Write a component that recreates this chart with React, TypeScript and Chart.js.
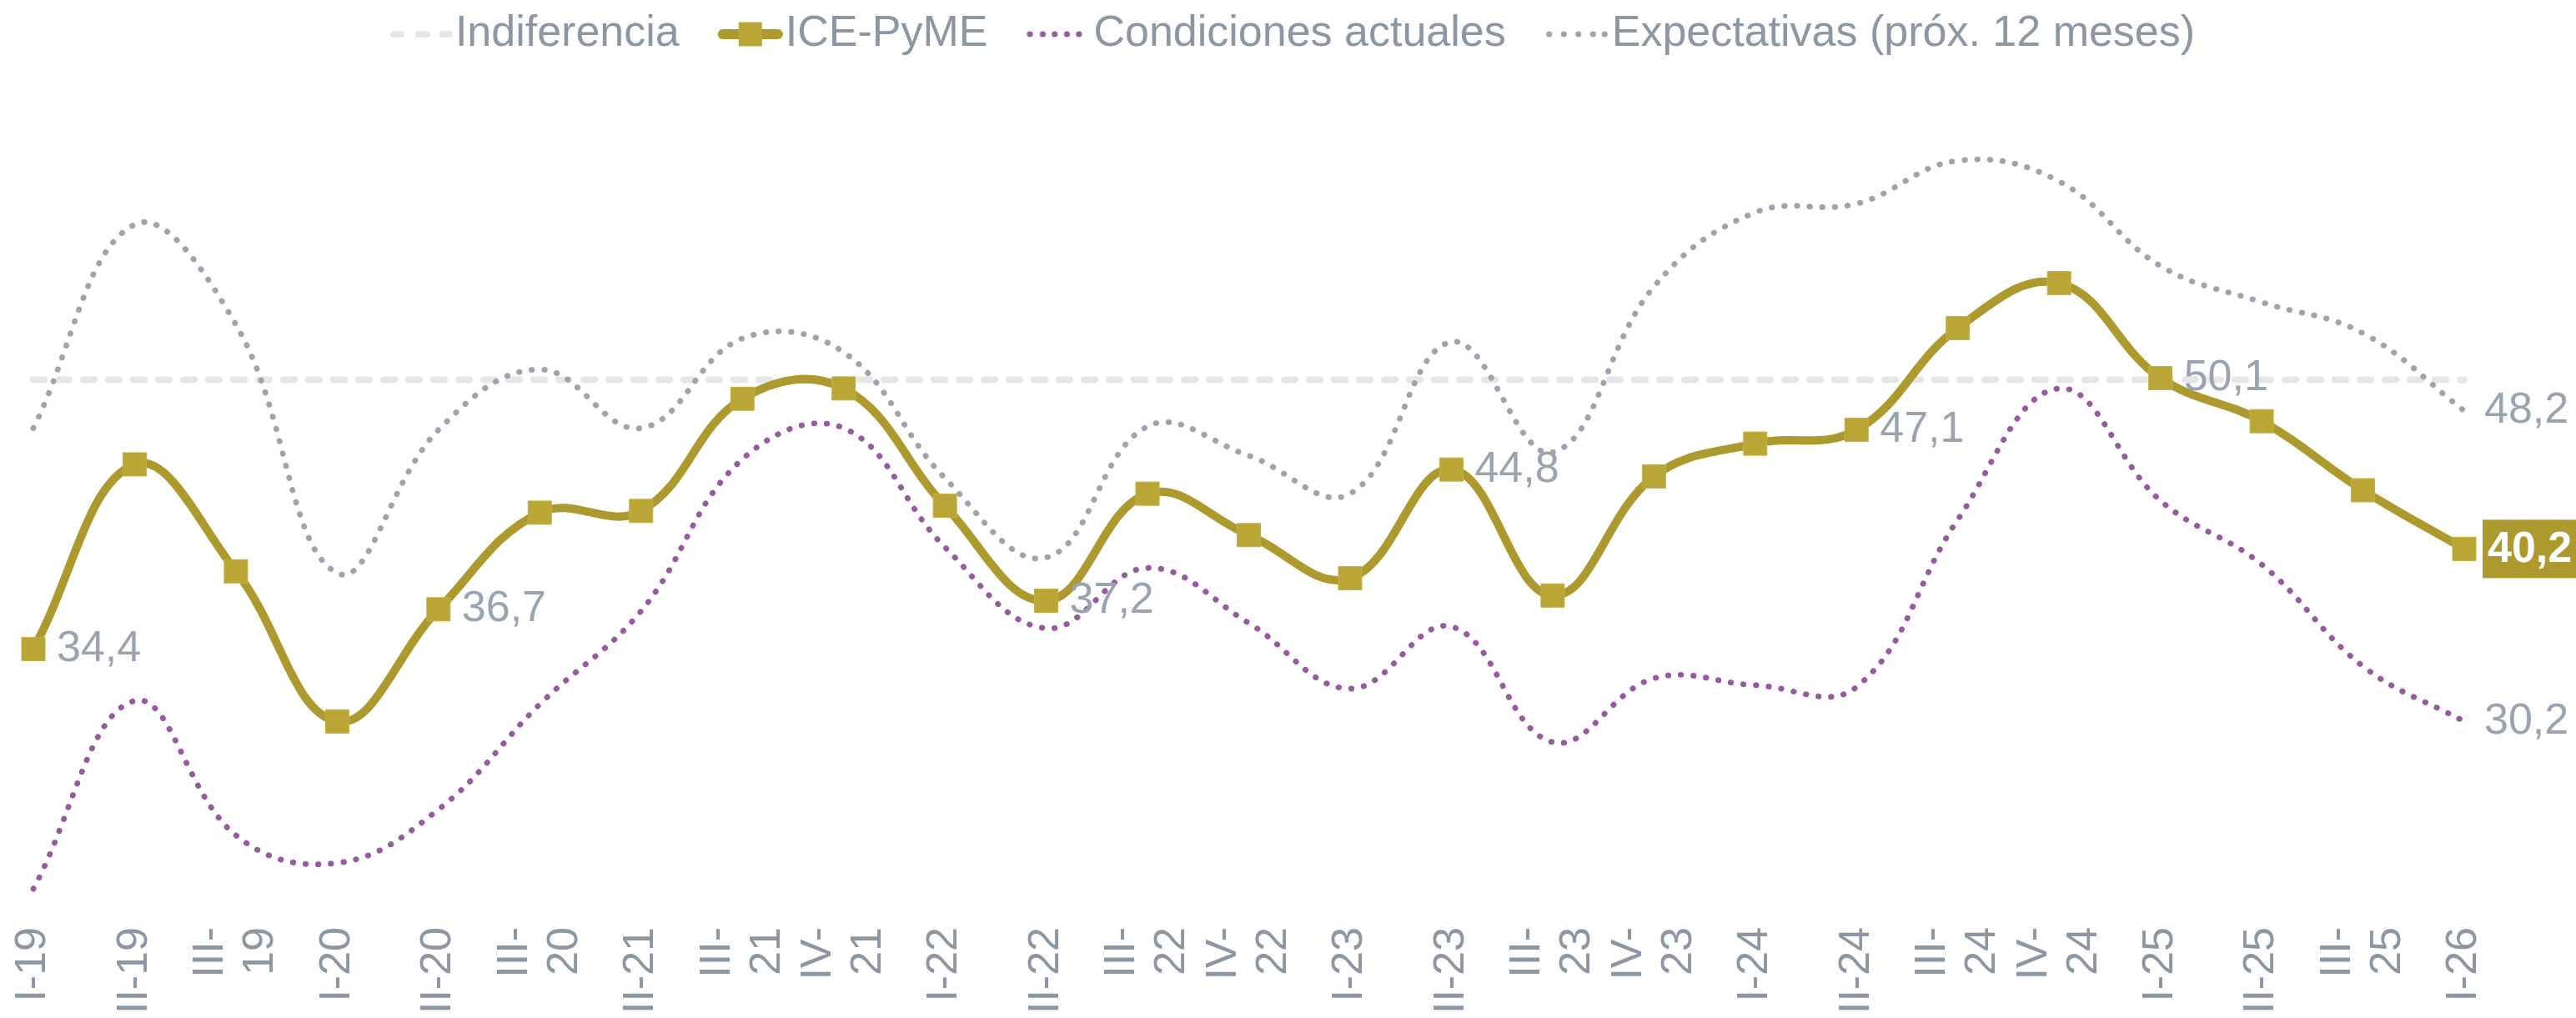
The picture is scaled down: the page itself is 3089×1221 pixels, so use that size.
import React, { useEffect, useRef } from "react";
import { Chart, registerables } from "chart.js";

Chart.register(...registerables);

// ---------- data ----------
const quarterLabels = [
  "I-19", "II-19", "III-19", "I-20", "II-20", "III-20", "II-21", "III-21", "IV-21",
  "I-22", "II-22", "III-22", "IV-22", "I-23", "II-23", "III-23", "IV-23",
  "I-24", "II-24", "III-24", "IV-24", "I-25", "II-25", "III-25", "I-26",
];

const icePyme = [
  34.4, 45.1, 38.9, 30.2, 36.7, 42.3, 42.4, 48.9, 49.5,
  42.7, 37.2, 43.4, 41.0, 38.5, 44.8, 37.5, 44.4,
  46.3, 47.1, 53.0, 55.6, 50.1, 47.6, 43.6, 40.2,
];

const condicionesActuales = [
  20.5, 31.4, 23.6, 22.0, 25.1, 31.2, 36.6, 45.4, 47.2,
  40.3, 35.6, 39.1, 35.9, 32.1, 35.7, 29.0, 32.7,
  32.3, 32.2, 41.9, 49.5, 43.0, 39.3, 33.4, 30.2,
];

const expectativas = [
  47.2, 59.0, 53.2, 38.8, 47.1, 50.6, 47.2, 52.4, 51.6,
  44.3, 39.7, 47.3, 45.6, 43.4, 52.2, 45.8, 55.4,
  59.7, 60.2, 62.7, 61.5, 56.6, 54.5, 52.7, 48.2,
];

const indiferenciaValue = 50;

const seriesNames = ["Indiferencia", "ICE-PyME", "Condiciones actuales", "Expectativas (próx. 12 meses)"];

// indices of ICE-PyME points carrying a value label
const labeledIcePoints = [0, 4, 10, 14, 18, 21];

// axis range
const Y_MIN = 19.78;
const Y_MAX = 68.29;

// ---------- style ----------
const FONT = "'Liberation Sans', Arial, Helvetica, sans-serif";
const TEXT_GRAY = "#8d97a3";
const LABEL_GRAY = "#9aa4b0";
const OLIVE_LINE = "#ad9a2f";
const OLIVE_MARK = "#b9a636";
const PURPLE = "#965a9e";
const DOT_GRAY = "#9ba4af";
const DASH_GRAY = "#e6e6e6";

const fmt = (v: number) => v.toFixed(1).replace(".", ",");
const isSplit = (s: string) => s.startsWith("III") || s.startsWith("IV");
const splitLabel = (s: string) => {
  if (isSplit(s)) {
    const k = s.indexOf("-");
    return [s.slice(0, k + 1), s.slice(k + 1)];
  }
  return ["", s];
};

function makeSymbol(kind: string): HTMLCanvasElement {
  const c = document.createElement("canvas");
  c.width = 132;
  c.height = 36;
  const g = c.getContext("2d") as CanvasRenderingContext2D;
  g.lineCap = "round";
  const cy = 18;
  if (kind === "dash") {
    g.strokeStyle = DASH_GRAY;
    g.lineWidth = 8;
    for (const [a, b] of [[61, 70], [91, 101], [120, 128]]) {
      g.beginPath();
      g.moveTo(a, cy);
      g.lineTo(b, cy);
      g.stroke();
    }
  } else if (kind === "ice") {
    g.strokeStyle = OLIVE_LINE;
    g.lineWidth = 12;
    g.beginPath();
    g.moveTo(60, cy);
    g.lineTo(126, cy);
    g.stroke();
    g.fillStyle = OLIVE_MARK;
    g.fillRect(79, cy - 14.5, 28, 29);
  } else {
    const xs = kind === "purple" ? [58.6, 74, 88.3, 103, 117.4] : [60, 77.5, 95, 112.5, 126.4];
    g.fillStyle = kind === "purple" ? PURPLE : DOT_GRAY;
    for (const x of xs) {
      g.beginPath();
      g.arc(x, cy, 3.6, 0, Math.PI * 2);
      g.fill();
    }
  }
  return c;
}

const valueLabelPlugin = {
  id: "valueLabels",
  afterDatasetsDraw(chart: any) {
    const ctx = chart.ctx as CanvasRenderingContext2D;
    ctx.save();
    ctx.textBaseline = "middle";
    ctx.textAlign = "left";
    ctx.font = `52px ${FONT}`;
    ctx.fillStyle = LABEL_GRAY;
    const iceMeta = chart.getDatasetMeta(1);
    labeledIcePoints.forEach((i) => {
      const p = iceMeta.data[i];
      ctx.fillText(fmt(icePyme[i]), p.x + 28, p.y);
    });
    const condMeta = chart.getDatasetMeta(2);
    const expMeta = chart.getDatasetMeta(3);
    const last = quarterLabels.length - 1;
    const pc = condMeta.data[last];
    ctx.fillText(fmt(condicionesActuales[last]), pc.x + 24, pc.y);
    const pe = expMeta.data[last];
    ctx.fillText(fmt(expectativas[last]), pe.x + 24, pe.y);
    // highlighted last ICE value
    const pl = iceMeta.data[last];
    ctx.fillStyle = OLIVE_LINE;
    ctx.fillRect(pl.x + 22, pl.y - 35, chart.width - (pl.x + 22), 70);
    ctx.fillStyle = "#ffffff";
    ctx.font = `bold 52px ${FONT}`;
    ctx.fillText(fmt(icePyme[last]), pl.x + 28, pl.y + 1);
    ctx.restore();
  },
};

export default function App() {
  const canvasRef = useRef<HTMLCanvasElement | null>(null);

  useEffect(() => {
    document.body.style.margin = "0";
    document.body.style.overflow = "hidden";
    const canvas = canvasRef.current;
    if (!canvas) return;
    const symbols = [makeSymbol("dash"), makeSymbol("ice"), makeSymbol("purple"), makeSymbol("gray")];

    const chart = new Chart(canvas, {
      type: "line",
      data: {
        labels: quarterLabels,
        datasets: [
          {
            label: seriesNames[0],
            data: quarterLabels.map(() => indiferenciaValue),
            borderColor: DASH_GRAY,
            borderWidth: 8,
            borderDash: [13, 17],
            borderCapStyle: "round",
            pointRadius: 0,
            tension: 0,
            order: 4,
            clip: false,
          },
          {
            label: seriesNames[1],
            data: icePyme,
            borderColor: OLIVE_LINE,
            borderWidth: 10,
            borderJoinStyle: "round",
            pointStyle: "rect",
            pointRadius: 19.8,
            pointBackgroundColor: OLIVE_MARK,
            pointBorderColor: "#c4b243",
            pointBorderWidth: 1,
            tension: 0.4,
            order: 1,
            clip: false,
          },
          {
            label: seriesNames[2],
            data: condicionesActuales,
            borderColor: PURPLE,
            borderWidth: 6.8,
            borderDash: [0.5, 14.7],
            borderCapStyle: "round",
            pointRadius: 0,
            tension: 0.4,
            order: 2,
            clip: false,
          },
          {
            label: seriesNames[3],
            data: expectativas,
            borderColor: DOT_GRAY,
            borderWidth: 6.8,
            borderDash: [0.5, 14.7],
            borderCapStyle: "round",
            pointRadius: 0,
            tension: 0.4,
            order: 3,
            clip: false,
          },
        ],
      },
      options: {
        animation: false,
        responsive: false,
        devicePixelRatio: 1,
        events: [],
        layout: { padding: { left: 0, right: 23, top: 0, bottom: 0 } },
        plugins: {
          tooltip: { enabled: false },
          legend: {
            position: "top",
            align: "center",
            labels: {
              usePointStyle: true,
              pointStyleWidth: 86,
              padding: 15,
              color: TEXT_GRAY,
              font: { family: FONT, size: 52 },
              generateLabels: () =>
                seriesNames.map((name, i) => ({
                  text: name,
                  pointStyle: symbols[i],
                  fillStyle: "rgba(0,0,0,0)",
                  strokeStyle: "rgba(0,0,0,0)",
                  lineWidth: 0,
                  hidden: false,
                  datasetIndex: i,
                  fontColor: TEXT_GRAY,
                })),
            },
          },
        },
        scales: {
          x: {
            grid: { display: false, drawTicks: false },
            border: { display: false },
            ticks: {
              autoSkip: false,
              minRotation: 90,
              maxRotation: 90,
              padding: 31,
              labelOffset: -30,
              color: TEXT_GRAY,
              font: (c: any) => ({
                family: FONT,
                size: 52,
                lineHeight: isSplit(quarterLabels[c.index] || "") ? "60px" : "30px",
              }),
              callback: (_v: any, index: number) => splitLabel(quarterLabels[index]),
            },
            afterFit: (s: any) => {
              s.height = 140;
            },
          },
          y: {
            min: Y_MIN,
            max: Y_MAX,
            display: true,
            ticks: { display: false },
            grid: { display: false },
            border: { display: false },
            afterFit: (s: any) => {
              s.width = 40;
            },
          },
          yRight: {
            position: "right",
            display: true,
            ticks: { display: false },
            grid: { display: false },
            border: { display: false },
            afterFit: (s: any) => {
              s.width = 111;
            },
          },
        },
      } as any,
      plugins: [valueLabelPlugin],
    });

    return () => chart.destroy();
  }, []);

  return (
    <div style={{ position: "absolute", left: 0, top: 0, width: 3089, height: 1221, background: "#ffffff" }}>
      <canvas ref={canvasRef} width={3089} height={1221} style={{ display: "block" }} />
    </div>
  );
}
